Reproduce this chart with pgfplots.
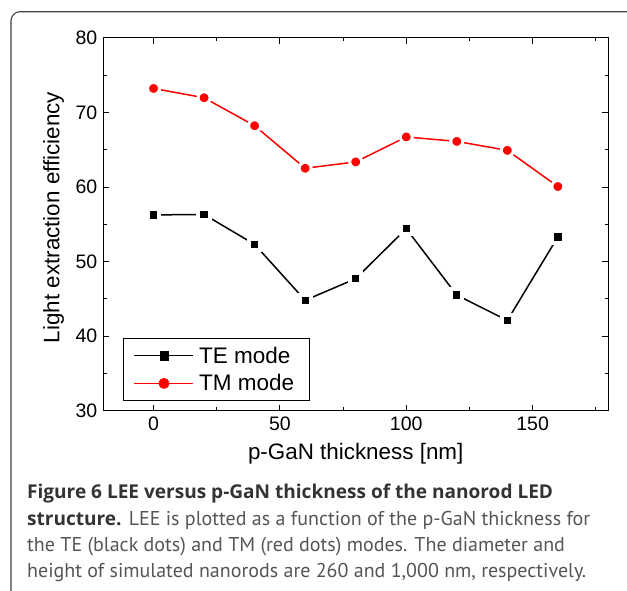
\documentclass[border=0pt]{standalone}
\usepackage{pgfplots}
\pgfplotsset{compat=1.18}
\usepackage{fontspec}
\setmainfont{Liberation Sans}
\newfontfamily\capfont{PT Sans}
\newfontfamily\capbfont{Open Sans}[BoldFont={* Bold}]
\definecolor{capbold}{HTML}{333333}
\definecolor{capnorm}{HTML}{555555}
\definecolor{framec}{HTML}{444444}
\pgfplotsset{
  teleg/.style={legend image code/.code={
    \draw[black, line width=1.5pt] (0pt,0pt) -- (59pt,0pt);
    \draw[##1, mark options={fill=black, draw=black, line width=0.3pt}, mark size=4.1pt] plot coordinates {(29.5pt,0pt)};}},
  tmleg/.style={legend image code/.code={
    \draw[red, line width=1.5pt] (0pt,0pt) -- (59pt,0pt);
    \draw[##1, mark options={fill=red, draw=red, line width=0.3pt}, mark size=5.3pt] plot coordinates {(29.5pt,0pt)};}},
}
\pgfplotstableread{
x   te     tm
0   56.25  73.2
20  56.3   71.95
40  52.3   68.2
60  44.8   62.5
80  47.7   63.35
100 54.4   66.7
120 45.5   66.1
140 42.1   64.9
160 53.3   60.05
}\leedata
\begin{document}
\begin{tikzpicture}
\useasboundingbox (0pt,0pt) rectangle (627pt,-590pt);
\clip (0pt,0pt) rectangle (627pt,-590pt);
\draw[framec, line width=1.1pt, rounded corners=9pt] (11pt,-620pt) -- (11pt,-11.7pt) -- (660pt,-11.7pt);
\begin{axis}[
  at={(103pt,-410.7pt)}, anchor=south west,
  scale only axis, width=505.4pt, height=373pt,
  xmin=-20, xmax=180, ymin=30, ymax=80,
  xtick={0,50,100,150}, minor xtick={25,75,125,175},
  ytick={30,40,50,60,70,80}, minor ytick={35,45,55,65,75},
  tick align=inside, major tick length=6pt, minor tick length=3.5pt,
  every tick/.style={black, line width=0.8pt},
  axis line style={line width=1pt},
  tick label style={font=\fontsize{19.5}{21}\selectfont},
  /pgf/number format/assume math mode=true,
  xticklabel style={yshift=-3pt},
  yticklabel style={xshift=-2.2pt},
  xlabel={p-GaN thickness [nm]},
  ylabel={Light extraction efficiency},
  label style={font=\fontsize{22.4}{24}\selectfont},
  xlabel style={at={(axis description cs:0.5,-0.1303)}, anchor=base},
  ylabel style={at={(axis description cs:-0.0861,0.518)}, anchor=base},
  legend cell align=left,
  legend style={at={(0.0402,0.0268)}, anchor=south west, draw=black, line width=0.8pt,
    font=\fontsize{22.5}{24}\selectfont, inner xsep=10pt, inner ysep=6pt, row sep=6pt,
    nodes={inner xsep=5pt, inner ysep=2pt}},
]
\addplot[black, line width=1.5pt, forget plot] table[x=x, y=te] {\leedata};
\addplot[only marks, mark=square*, mark size=5.65pt, mark options={fill=black, draw=white, line width=4pt}, teleg]
  table[x=x, y=te] {\leedata};
\addlegendentry{TE mode}
\addplot[red, line width=1.5pt, forget plot] table[x=x, y=tm] {\leedata};
\addplot[only marks, mark=*, mark size=6pt, mark options={fill=red, draw=white, line width=3pt}, tmleg]
  table[x=x, y=tm] {\leedata};
\addlegendentry{TM mode}
\end{axis}
\begin{scope}[every node/.style={anchor=base west, inner sep=0pt, font=\capfont\fontsize{20}{24}\selectfont}]
\node[capbold] at (27pt,-498.3pt) {\capbfont\fontsize{19.05}{24}\selectfont\bfseries Figure 6 LEE versus p-GaN thickness of the nanorod LED};
\node at (27pt,-525pt) {\textcolor{capbold}{\capbfont\fontsize{19.05}{24}\selectfont\bfseries structure.} \textcolor{capnorm}{LEE is plotted as a function of the p-GaN thickness for}};
\node[capnorm] at (27pt,-551.7pt) {the TE (black dots) and TM (red dots) modes. The diameter and};
\node[capnorm] at (27pt,-577.7pt) {height of simulated nanorods are 260 and 1,000 nm, respectively.};
\end{scope}
\end{tikzpicture}
\end{document}
